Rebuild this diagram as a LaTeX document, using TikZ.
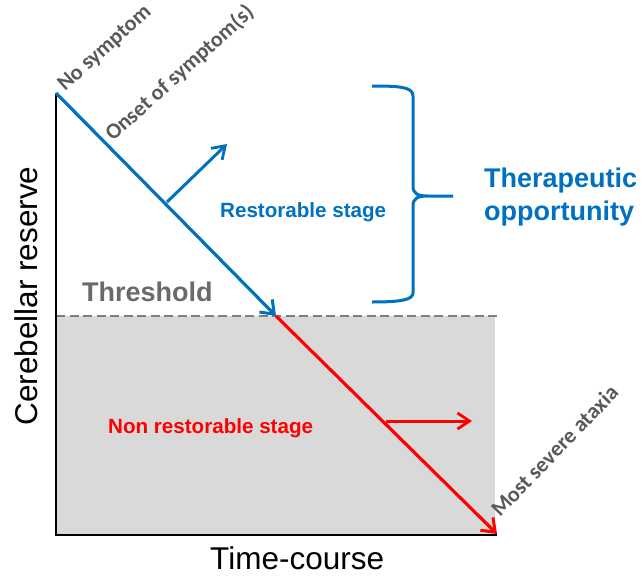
\documentclass[tikz,border=0pt]{standalone}
\usepackage{fontspec}
\setmainfont{Liberation Sans}
\newfontfamily\calibri{Carlito}
\usetikzlibrary{arrows.meta}
\definecolor{StageBlue}{HTML}{0070C0}
\definecolor{StageRed}{HTML}{FF0000}
\definecolor{LabelGray}{HTML}{595959}
\definecolor{TextGray}{HTML}{6A6A6A}
\definecolor{LineGray}{HTML}{7F7F7F}
\definecolor{ZoneGray}{HTML}{D9D9D9}
\tikzset{
  axisline/.style={line width=2.4pt, black},
  course/.style={line width=3.2pt, -{Straight Barb[length=12pt, width=18pt, line width=3pt]}},
  drift/.style={line width=3pt, -{Straight Barb[length=12pt, width=16pt, line width=2.8pt]}},
  thresh/.style={line width=2.8pt, LineGray, dash pattern=on 9pt off 4.5pt},
  tag/.style={inner sep=0pt, anchor=base west, text=LabelGray, font=\calibri\bfseries\fontsize{22}{26}\selectfont},
  stage/.style={inner sep=0pt, anchor=base west, font=\bfseries\fontsize{20.6}{24}\selectfont},
  axistitle/.style={inner sep=0pt, font=\fontsize{31.5}{36}\selectfont},
}
\begin{document}
\begin{tikzpicture}[x=1pt, y=-1pt]
  \useasboundingbox (0,0) rectangle (644,575);
  % points of the course
  \coordinate (top) at (56,93);
  \coordinate (orig) at (56,535);
  \coordinate (xend) at (497,535);
  \coordinate (cross) at (276,316);
  \coordinate (worst) at (497,534);
  \coordinate (bluefrom) at (167,202);
  \coordinate (blueto) at (227,144);
  \coordinate (redfrom) at (386,421);
  \coordinate (redto) at (472,421);
  \coordinate (lim west) at (56,316);
  \coordinate (lim east) at (497,316);
  % non restorable zone
  \fill[ZoneGray] (lim west) rectangle (495,535);
  \draw[thresh] (lim west) -- (lim east);
  \draw[axisline] (top) -- (orig) -- (xend);
  % course of the disease
  \draw[course, StageBlue] (top) -- (cross);
  \draw[course, StageRed] (cross) -- (worst);
  \draw[drift, StageBlue] (bluefrom) -- (blueto);
  \draw[drift, StageRed] (redfrom) -- (redto);
  % brace
  \draw[StageBlue, line width=3pt] (372,86) .. controls (400,86) and (413,87) .. (413,96)
    -- (413,186) .. controls (413,194) and (418,196) .. (428,196) -- (453,196)
    (428,196) .. controls (418,196) and (413,198) .. (413,206)
    -- (413,293) .. controls (413,300) and (400,302) .. (372,302);
  % labels
  \node[tag, rotate=42] (nosym) at (65,92) {No symptom};
  \node[tag, rotate=42] (onset) at (113,142) {Onset of symptom(s)};
  \node[tag, rotate=46] (severe) at (500,518) {Most severe ataxia};
  \node[stage, text=StageBlue] (rest) at (220,217) {Restorable stage};
  \node[stage, text=StageRed] (nonrest) at (108,433) {Non restorable stage};
  \node[inner sep=0pt, anchor=base west, text=TextGray, font=\bfseries\fontsize{27}{32}\selectfont] (thr) at (82,301) {Threshold};
  \node[inner sep=0pt, anchor=west, align=left, text=StageBlue, font=\bfseries\fontsize{27}{33}\selectfont] (opp) at (484,197) {Therapeutic\\opportunity};
  \node[axistitle, anchor=base west] (xlab) at (210,569) {Time-course};
  \node[axistitle, anchor=base, rotate=90] (ylab) at (37,296) {Cerebellar reserve};
\end{tikzpicture}
\end{document}
